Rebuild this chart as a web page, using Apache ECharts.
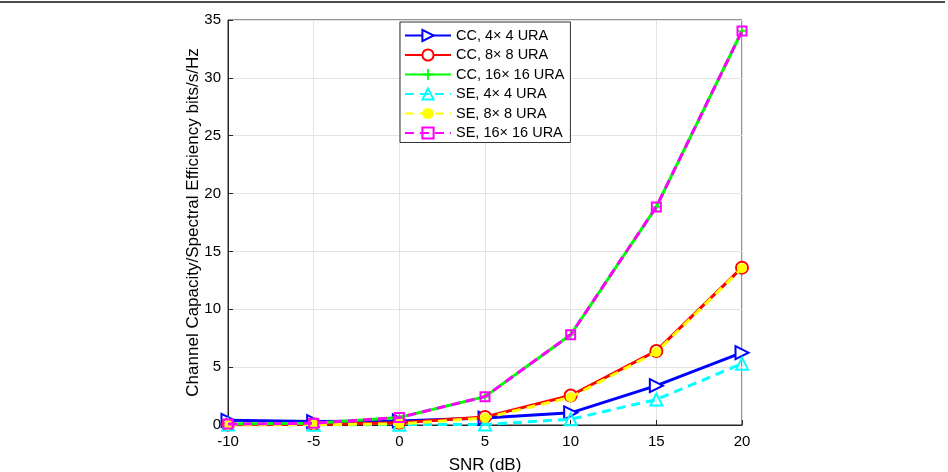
<!DOCTYPE html>
<html><head><meta charset="utf-8">
<script src="https://cdn.jsdelivr.net/npm/echarts@6/dist/echarts.min.js"></script>
<style>html,body{margin:0;padding:0;background:#fff}#c{width:948px;height:472px}</style>
</head><body><div id="c"></div>
<script>
const snr = [-10, -5, 0, 5, 10, 15, 20];
const xTicks = [-10, -5, 0, 5, 10, 15, 20];
const yTicks = [0, 5, 10, 15, 20, 25, 30, 35];
const cc4  = [0.40, 0.30, 0.35, 0.60, 1.05, 3.40, 6.25];
const cc8  = [0.03, 0.05, 0.20, 0.70, 2.55, 6.40, 13.60];
const cc16 = [0.08, 0.15, 0.65, 2.45, 7.80, 18.85, 34.05];
const se4  = [0.05, 0.02, 0.03, 0.05, 0.50, 2.20, 5.30];
const se8  = [0.00, 0.02, 0.10, 0.60, 2.40, 6.30, 13.55];
const se16 = [0.08, 0.15, 0.65, 2.45, 7.80, 18.85, 34.05];
const names = ['CC, 4\u00d7 4 URA','CC, 8\u00d7 8 URA','CC, 16\u00d7 16 URA','SE, 4\u00d7 4 URA','SE, 8\u00d7 8 URA','SE, 16\u00d7 16 URA'];

const pair = a => snr.map((x,i)=>[x,a[i]]);
const triRight = 'path://M0,0L10,5L0,10Z';
const plus = 'path://M4.2,0H5.8V4.2H10V5.8H5.8V10H4.2V5.8H0V4.2H4.2Z';
function mk(name, data, color, dashed, symbol, size, fill, z){
  return {
    name, type:'line', data:pair(data), z,
    symbol, symbolSize:size,
    lineStyle:{color, width:3, type: dashed ? [9,6] : 'solid'},
    itemStyle:{color: fill, borderColor: color, borderWidth: fill===color?0:2},
    emphasis:{disabled:true}, animation:false
  };
}
const series = [
  mk(names[0], cc4, '#0000ff', false, triRight, [13,13], '#ffffff', 2),
  mk(names[1], cc8, '#ff0000', false, 'circle', 12, '#ffffff', 3),
  mk(names[2], cc16, '#00ff00', false, plus, 10, '#00ff00', 4),
  mk(names[3], se4, '#00ffff', true, 'triangle', 12, 'rgba(255,255,255,0)', 5),
  mk(names[4], se8, '#ffff00', true, 'circle', 10, '#ffff00', 6),
  mk(names[5], se16, '#ff00ff', true, 'rect', 9, 'rgba(255,255,255,0)', 7)
];
const axisCol = '#262626';
const FF = 'Liberation Sans, Arial, Helvetica';
const chart = echarts.init(document.getElementById('c'), null, {renderer:'canvas'});
chart.setOption({
  backgroundColor:'#fff',
  animation:false,
  grid:{left:228, right:206, top:20, bottom:47, containLabel:false, outerBoundsMode:'none',
        show:true, borderColor:axisCol, borderWidth:1, backgroundColor:'transparent'},
  graphic:[{type:'line', shape:{x1:0,y1:2,x2:945,y2:2}, style:{stroke:'#111', lineWidth:1.5}, z:100}],
  legend:{
    data:names, orient:'vertical', left:400, top:22,
    backgroundColor:'#fff', borderColor:'#333', borderWidth:1, padding:[6,6,2,4],
    itemWidth:46, itemHeight:14, itemGap:4.5,
    textStyle:{fontFamily:FF, fontSize:14.5, color:'#000'}
  },
  xAxis:{
    type:'value', min:-10, max:20, interval:5,
    name:'SNR (dB)', nameLocation:'middle', nameGap:32, nameMoveOverlap:false,
    nameTextStyle:{fontFamily:FF, fontSize:17, color:'#000'},
    axisLine:{show:true, onZero:false, lineStyle:{color:axisCol}},
    axisTick:{inside:true, length:5, lineStyle:{color:axisCol}},
    axisLabel:{fontFamily:FF, fontSize:15, color:'#000', margin:9,
      customValues: xTicks},
    splitLine:{show:true, lineStyle:{color:'#e3e3e3', width:1}}
  },
  yAxis:{
    type:'value', min:0, max:35, interval:5,
    name:'Channel Capacity/Spectral Efficiency bits/s/Hz', nameLocation:'middle', nameGap:26, nameMoveOverlap:false,
    nameTextStyle:{fontFamily:FF, fontSize:17, color:'#000'},
    axisLine:{show:true, onZero:false, lineStyle:{color:axisCol}},
    axisTick:{show:true, inside:true, length:5, lineStyle:{color:axisCol}},
    axisLabel:{fontFamily:FF, fontSize:15, color:'#000', margin:7,
      customValues: yTicks},
    splitLine:{show:true, lineStyle:{color:'#e3e3e3', width:1}}
  },
  series
});
</script></body></html>
